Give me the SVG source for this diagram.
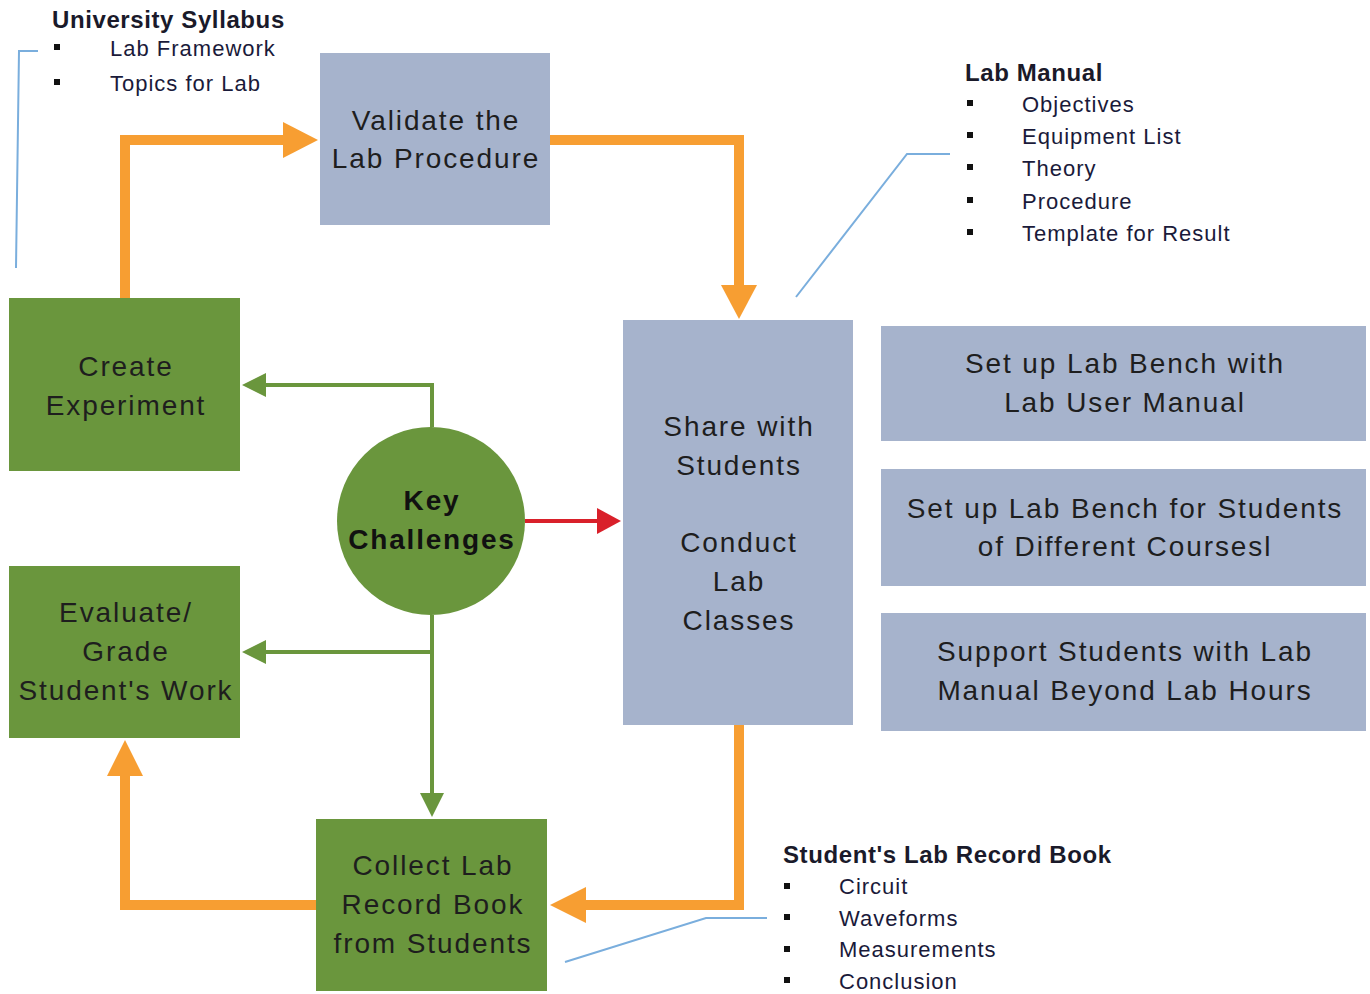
<svg xmlns="http://www.w3.org/2000/svg" width="1370" height="994" viewBox="0 0 1370 994">
<defs>
<style>
.blue{fill:#A6B3CC}
.green{fill:#6A963D}
.nt{font-family:"Liberation Sans",Arial,sans-serif;font-size:28px;fill:#1e1e1e;text-anchor:middle;letter-spacing:1.9px}
.kt{font-family:"Liberation Sans",Arial,sans-serif;font-size:28px;font-weight:bold;fill:#111;text-anchor:middle;letter-spacing:1.8px}
.ht{font-family:"Liberation Sans",Arial,sans-serif;font-size:24px;font-weight:bold;fill:#1a1a2a;letter-spacing:0.6px}
.bt{font-family:"Liberation Sans",Arial,sans-serif;font-size:22px;fill:#1a1a3a;letter-spacing:1px}
.bul{fill:#111}
.or{fill:none;stroke:#F79E32;stroke-width:10}
.gr{fill:none;stroke:#6A963D;stroke-width:4}
.rd{fill:none;stroke:#D9202A;stroke-width:4}
.ld{fill:none;stroke:#7AAEDD;stroke-width:2}
</style>
</defs>
<rect width="1370" height="994" fill="#fff"/>

<g id="connectors">
<path class="or" d="M125,298 V140 H285"/>
<polygon fill="#F79E32" points="283,122 318,140 283,158"/>
<path class="or" d="M550,140 H739 V287"/>
<polygon fill="#F79E32" points="721,285 739,319 757,285"/>
<path class="or" d="M739,725 V905 H585"/>
<polygon fill="#F79E32" points="586,887 550,905 586,923"/>
<path class="or" d="M316,905 H125 V775"/>
<polygon fill="#F79E32" points="107,776 125,740 143,776"/>
<path class="gr" d="M432,427 V385 H262"/>
<polygon fill="#6A963D" points="266,373 242,385 266,397"/>
<path class="gr" d="M432,615 V795"/>
<polygon fill="#6A963D" points="420,793 432,817 444,793"/>
<path class="gr" d="M432,652 H262"/>
<polygon fill="#6A963D" points="266,640 242,652 266,664"/>
<path class="rd" d="M525,521 H598"/>
<polygon fill="#D9202A" points="597,508 621,521 597,534"/>
<path class="ld" d="M38,51 H19 L16,268"/>
<path class="ld" d="M950,154 H907 L796,297"/>
<path class="ld" d="M767,918 H706 L565,962"/>
</g>

<g id="validate">
<rect class="blue" x="320" y="53" width="230" height="172"/>
<text class="nt" x="436" y="130">Validate the</text>
<text class="nt" x="436" y="168">Lab Procedure</text>
</g>
<g id="create">
<rect class="green" x="9" y="298" width="231" height="173"/>
<text class="nt" x="126" y="376">Create</text>
<text class="nt" x="126" y="415">Experiment</text>
</g>
<g id="evaluate">
<rect class="green" x="9" y="566" width="231" height="172"/>
<text class="nt" x="126" y="622">Evaluate/</text>
<text class="nt" x="126" y="661">Grade</text>
<text class="nt" x="126" y="700">Student's Work</text>
</g>
<g id="collect">
<rect class="green" x="316" y="819" width="231" height="172"/>
<text class="nt" x="433" y="875">Collect Lab</text>
<text class="nt" x="433" y="914">Record Book</text>
<text class="nt" x="433" y="953">from Students</text>
</g>
<g id="share">
<rect class="blue" x="623" y="320" width="230" height="405"/>
<text class="nt" x="739" y="436">Share with</text>
<text class="nt" x="739" y="475">Students</text>
<text class="nt" x="739" y="552">Conduct</text>
<text class="nt" x="739" y="591">Lab</text>
<text class="nt" x="739" y="630">Classes</text>
</g>
<g id="bench1">
<rect class="blue" x="881" y="326" width="485" height="115"/>
<text class="nt" x="1125" y="373">Set up Lab Bench with</text>
<text class="nt" x="1125" y="412">Lab User Manual</text>
</g>
<g id="bench2">
<rect class="blue" x="881" y="469" width="485" height="117"/>
<text class="nt" x="1125" y="518">Set up Lab Bench for Students</text>
<text class="nt" x="1125" y="556">of Different Coursesl</text>
</g>
<g id="support">
<rect class="blue" x="881" y="613" width="485" height="118"/>
<text class="nt" x="1125" y="661">Support Students with Lab</text>
<text class="nt" x="1125" y="700">Manual Beyond Lab Hours</text>
</g>
<g id="key">
<circle class="green" cx="431" cy="521" r="94"/>
<text class="kt" x="432" y="510">Key</text>
<text class="kt" x="432" y="549">Challenges</text>
</g>

<g id="syllabus">
<text class="ht" x="52" y="28">University Syllabus</text>
<rect class="bul" x="54" y="44" width="6" height="6"/>
<text class="bt" x="110" y="56">Lab Framework</text>
<rect class="bul" x="54" y="79" width="6" height="6"/>
<text class="bt" x="110" y="91">Topics for Lab</text>
</g>
<g id="labmanual">
<text class="ht" x="965" y="81">Lab Manual</text>
<rect class="bul" x="967" y="100" width="6" height="6"/>
<text class="bt" x="1022" y="112">Objectives</text>
<rect class="bul" x="967" y="132" width="6" height="6"/>
<text class="bt" x="1022" y="144">Equipment List</text>
<rect class="bul" x="967" y="164" width="6" height="6"/>
<text class="bt" x="1022" y="176">Theory</text>
<rect class="bul" x="967" y="197" width="6" height="6"/>
<text class="bt" x="1022" y="209">Procedure</text>
<rect class="bul" x="967" y="229" width="6" height="6"/>
<text class="bt" x="1022" y="241">Template for Result</text>
</g>
<g id="recordbook">
<text class="ht" x="783" y="863">Student's Lab Record Book</text>
<rect class="bul" x="784" y="883" width="6" height="6"/>
<text class="bt" x="839" y="894">Circuit</text>
<rect class="bul" x="784" y="914" width="6" height="6"/>
<text class="bt" x="839" y="926">Waveforms</text>
<rect class="bul" x="784" y="946" width="6" height="6"/>
<text class="bt" x="839" y="957">Measurements</text>
<rect class="bul" x="784" y="977" width="6" height="6"/>
<text class="bt" x="839" y="989">Conclusion</text>
</g>
</svg>
